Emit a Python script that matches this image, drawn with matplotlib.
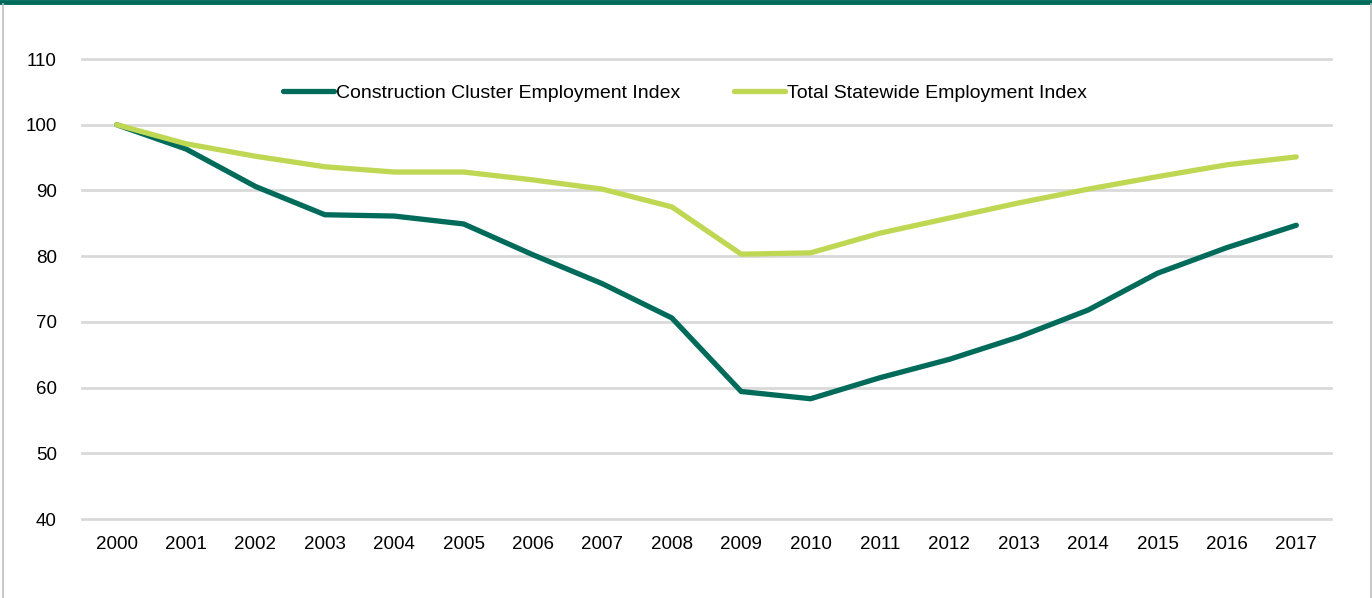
import matplotlib
matplotlib.use("Agg")
import matplotlib.pyplot as plt
from matplotlib.lines import Line2D

years = [str(y) for y in range(2000, 2018)]
construction = [100, 96.3, 90.6, 86.3, 86.1, 84.9, 80.2, 75.8, 70.6, 59.4, 58.3,
                61.5, 64.3, 67.7, 71.8, 77.4, 81.3, 84.7]
statewide = [100, 97.1, 95.2, 93.6, 92.8, 92.8, 91.6, 90.2, 87.5, 80.3, 80.5,
             83.5, 85.8, 88.1, 90.2, 92.1, 93.9, 95.1]
yticks = [40, 50, 60, 70, 80, 90, 100, 110]

plt.rcParams['font.family'] = ['Liberation Sans', 'DejaVu Sans']

W, H = 1372, 598
fig = plt.figure(figsize=(W / 100, H / 100), dpi=100)
ax = fig.add_axes([82 / W, 1 - 519 / H, (1331 - 82) / W, (519 - 59) / H])

x = list(range(len(years)))
ax.plot(x, construction, color='#006B5A', lw=3.8, solid_capstyle='round',
        solid_joinstyle='round', label='Construction Cluster Employment Index', zorder=3)
ax.plot(x, statewide, color='#BFD854', lw=3.8, solid_capstyle='round',
        solid_joinstyle='round', label='Total Statewide Employment Index', zorder=3)

ax.set_xlim(-0.5, len(years) - 0.5)
ax.set_ylim(40, 110)
ax.set_yticks(yticks)
ax.set_yticklabels([str(v) for v in yticks])
ax.set_xticks(x)
ax.set_xticklabels(years)
ax.grid(axis='y', color='#D9D9D9', lw=2)
for gl in ax.yaxis.get_gridlines():
    gl.set_clip_on(False)
ax.set_axisbelow(True)
for s in ax.spines.values():
    s.set_visible(False)
ax.tick_params(length=0, labelsize=13.5, colors='#000000')
ax.tick_params(axis='y', pad=18)
ax.tick_params(axis='x', pad=12)

leg = fig.legend(loc='center', bbox_to_anchor=(685 / W, 1 - 93 / H), ncol=2,
                 frameon=False, fontsize=14, handlelength=2.6, handletextpad=0.1,
                 columnspacing=2.8)

# frame decorations
fig.add_artist(Line2D([0, 1], [1 - 2 / H, 1 - 2 / H], transform=fig.transFigure,
                      color='#006B5A', lw=3.5))
fig.add_artist(Line2D([3.5 / W, 3.5 / W], [0, 1 - 4 / H], transform=fig.transFigure,
                      color='#BFBFBF', lw=1.2))
fig.add_artist(Line2D([1370.5 / W, 1370.5 / W], [0, 1 - 4 / H], transform=fig.transFigure,
                      color='#BFBFBF', lw=1.2))

fig.savefig('out.png', dpi=100)
